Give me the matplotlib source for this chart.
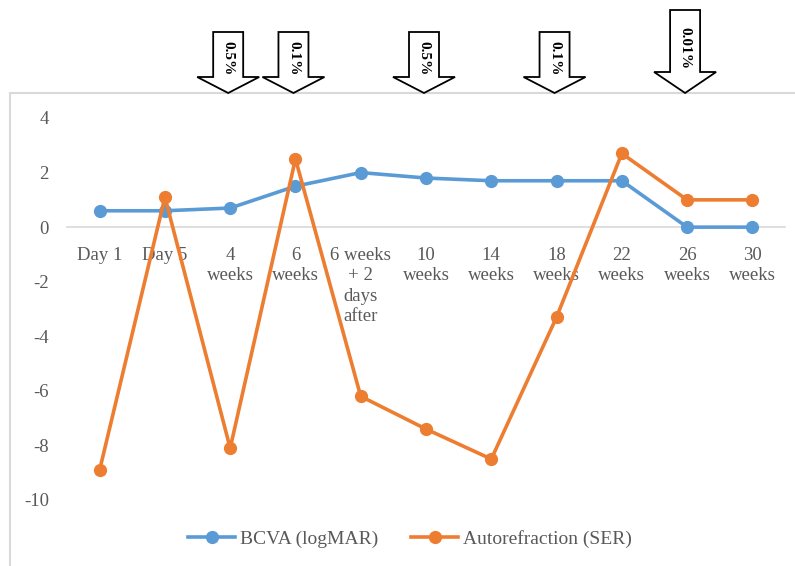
import numpy as np
import matplotlib.pyplot as plt
from matplotlib.patches import Polygon, Rectangle
from matplotlib.transforms import IdentityTransform

plt.rcParams['font.family'] = ['Liberation Serif', 'DejaVu Serif']

# visit schedule and measurements
timepoints = ["Day 1", "Day 5", "4\nweeks", "6\nweeks", "6 weeks\n+ 2\ndays\nafter",
              "10\nweeks", "14\nweeks", "18\nweeks", "22\nweeks", "26\nweeks", "30\nweeks"]
bcva = [0.6, 0.6, 0.7, 1.5, 2.0, 1.8, 1.7, 1.7, 1.7, 0.0, 0.0]
ser = [-8.9, 1.1, -8.1, 2.5, -6.2, -7.4, -8.5, -3.3, 2.7, 1.0, 1.0]
yticks = [4, 2, 0, -2, -4, -6, -8, -10]

# atropine dose changes (index into timepoints)
dose_at = [2, 3, 5, 7, 9]
dose_labels = ["0.5%", "0.1%", "0.5%", "0.1%", "0.01%"]

W, H = 795, 566
fig = plt.figure(figsize=(W / 100, H / 100), dpi=100)
ax = fig.add_axes([67 / W, 1 - 500 / H, 718 / W, 382 / H])

# outer chart border
fig.add_artist(Rectangle((10 / W, -0.05), 1.0, (1 - 93 / H) + 0.05, transform=fig.transFigure,
                         fill=False, edgecolor='#d9d9d9', lw=1.5))

x = np.arange(len(timepoints))
ax.plot(x, bcva, color='#5B9BD5', lw=2.6, marker='o', ms=8.5, label='BCVA (logMAR)',
        zorder=3, clip_on=False)
ax.plot(x, ser, color='#ED7D31', lw=2.6, marker='o', ms=8.5, label='Autorefraction (SER)',
        zorder=4, clip_on=False)

ax.set_xlim(-0.5, len(timepoints) - 0.5)
ax.set_ylim(-10, 4)
for s in ['left', 'right', 'top']:
    ax.spines[s].set_visible(False)
ax.spines['bottom'].set_position(('data', 0))
ax.spines['bottom'].set_color('#d9d9d9')
ax.spines['bottom'].set_linewidth(1.2)

ax.set_xticks(x, timepoints, linespacing=1.27)
ax.set_yticks(yticks, [str(v) for v in yticks])
ax.tick_params(axis='x', length=0, pad=14, labelsize=13.5, labelcolor='#595959')
ax.tick_params(axis='y', length=0, pad=13, labelsize=13.5, labelcolor='#595959')

leg = ax.legend(loc='center', bbox_to_anchor=(410 / W, 1 - 539 / H), bbox_transform=fig.transFigure,
                ncol=2, frameon=False, fontsize=14, handlelength=2.4, handletextpad=0.25,
                columnspacing=1.7, labelcolor='#595959')

# dose-change arrows above the plot
arrow_top = [32, 32, 32, 32, 10]
head_base = [77, 77, 77, 77, 72]
text_mid = [58, 58, 58, 58, 48]
tip = 93
for i, lab, top, hb, tm in zip(dose_at, dose_labels, arrow_top, head_base, text_mid):
    cx = ax.transData.transform((i, 0))[0] - 2
    sw, hw = 15, 31
    pts = [(cx - sw, H - top), (cx + sw, H - top), (cx + sw, H - hb), (cx + hw, H - hb),
           (cx, H - tip), (cx - hw, H - hb), (cx - sw, H - hb)]
    fig.add_artist(Polygon(pts, closed=True, facecolor='white', edgecolor='black', lw=1.3,
                           transform=IdentityTransform()))
    fig.text(cx, H - tm, lab, rotation=270, ha='center', va='center', fontsize=11,
             fontweight='bold', transform=IdentityTransform())

fig.savefig('out.png', dpi=100)
